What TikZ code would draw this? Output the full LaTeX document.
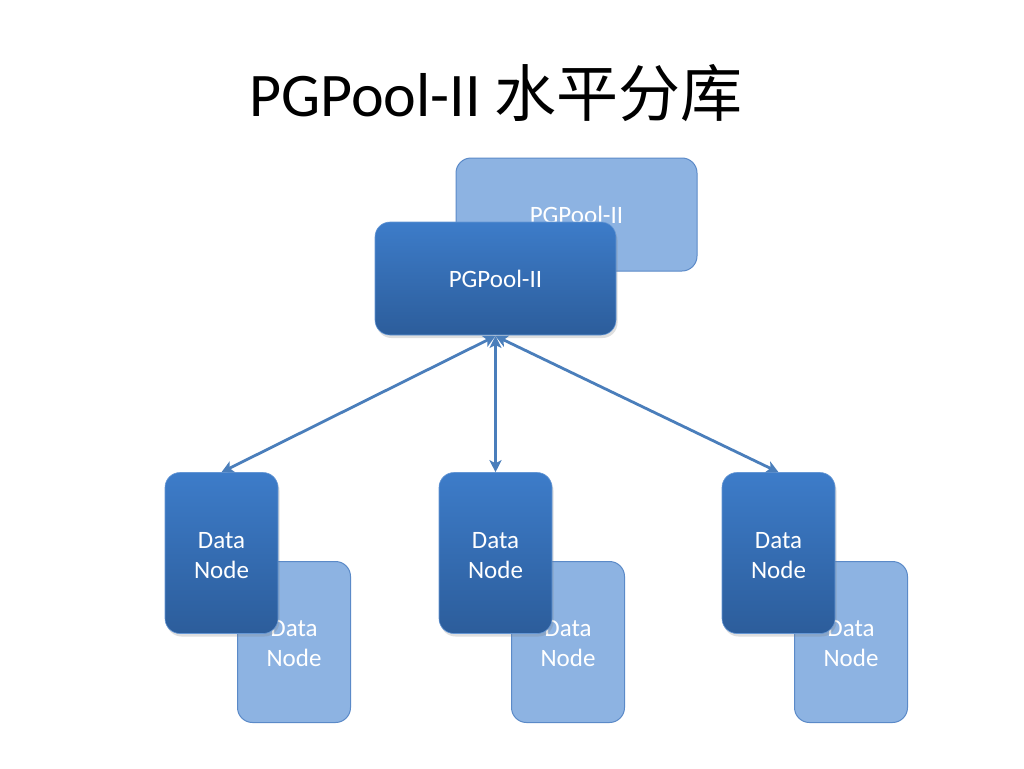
\documentclass[tikz,border=0pt]{standalone}
\usepackage{fontspec}
\setmainfont{Carlito}
\newfontfamily\cjk{Noto Sans CJK SC}
\usetikzlibrary{arrows.meta,shadows}
\definecolor{ftop}{HTML}{3D7CC9}
\definecolor{fbot}{HTML}{2C5D9B}
\definecolor{bfill}{HTML}{8DB3E2}
\definecolor{bline}{HTML}{5B8AC8}
\definecolor{arrc}{HTML}{4A7EBB}
\tikzset{
  frontbox/.style={rectangle, rounded corners=15pt, inner sep=0pt,
    top color=ftop, bottom color=fbot, draw=ftop!80!white, line width=0.6pt,
    drop shadow={opacity=0.25, shadow xshift=1.5pt, shadow yshift=-3pt},
    text=white, font=\fontsize{25}{30}\selectfont, align=center},
  backbox/.style={rectangle, rounded corners=15pt, inner sep=0pt,
    fill=bfill, draw=bline, line width=1pt,
    text=white, font=\fontsize{25}{30}\selectfont, align=center},
  boxlabel/.style={text=white, font=\fontsize{25}{30}\selectfont, align=center, inner sep=0pt},
  pgsize/.style={minimum width=241pt, minimum height=113pt},
  dnsize/.style={minimum width=113pt, minimum height=161pt},
  biarrow/.style={draw=arrc, line width=2.8pt, {Stealth[length=12pt,width=12pt,inset=3pt]}-{Stealth[length=12pt,width=12pt,inset=3pt]}},
}
\begin{document}
\begin{tikzpicture}[x=1pt,y=-1pt]
\path[fill=white] (0,0) rectangle (1024,768);
\useasboundingbox (0,0) rectangle (1024,768);
\node (title) at (496,93) {\fontsize{62}{70}\selectfont PGPool-II {\cjk 水平分库}};

\node[backbox,pgsize] (pgb) at (576.5,214.5) {PGPool-II};
\node[frontbox,pgsize] (pg) at (495.5,278.5) {PGPool-II};

\node[backbox,dnsize] (d1b) at (294,642) {};
\node[boxlabel] (d1bt) at ([yshift=-2pt]d1b.center) {Data\\Node};
\node[frontbox,dnsize] (d1) at (221.5,553) {};
\node[boxlabel] (d1t) at ([yshift=-3pt]d1.center) {Data\\Node};

\node[backbox,dnsize] (d2b) at (568,642) {};
\node[boxlabel] (d2bt) at ([yshift=-2pt]d2b.center) {Data\\Node};
\node[frontbox,dnsize] (d2) at (495.5,553) {};
\node[boxlabel] (d2t) at ([yshift=-3pt]d2.center) {Data\\Node};

\node[backbox,dnsize] (d3b) at (851,642) {};
\node[boxlabel] (d3bt) at ([yshift=-2pt]d3b.center) {Data\\Node};
\node[frontbox,dnsize] (d3) at (778.5,553) {};
\node[boxlabel] (d3t) at ([yshift=-3pt]d3.center) {Data\\Node};

\coordinate (hub) at (495.5,336);
\draw[biarrow] (hub) -- (d1.north);
\draw[biarrow] (hub) -- (d2.north);
\draw[biarrow] (hub) -- (d3.north);
\end{tikzpicture}
\end{document}
